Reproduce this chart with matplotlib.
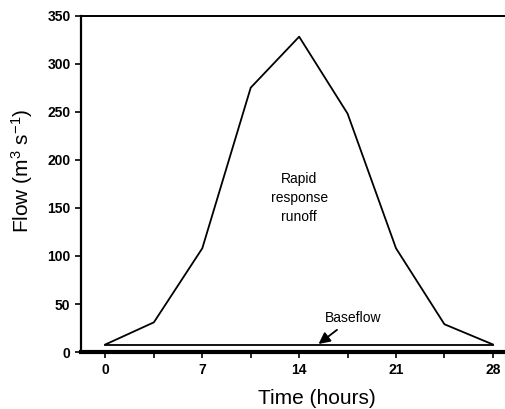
import matplotlib
matplotlib.use("Agg")
import matplotlib.pyplot as plt

plt.rcParams['font.family'] = ['Liberation Sans', 'DejaVu Sans']
plt.rcParams['mathtext.fontset'] = 'custom'
plt.rcParams['mathtext.rm'] = 'Liberation Sans'
plt.rcParams['mathtext.it'] = 'Liberation Sans:italic'
plt.rcParams['mathtext.bf'] = 'Liberation Sans:bold'

time_h = [0, 3.5, 7, 10.5, 14, 17.5, 21, 24.5, 28]
flow = [8, 31, 108, 275, 328, 248, 108, 29, 8]
baseflow_t = [0, 28]
baseflow_v = [7.5, 7.5]
xticks = [0, 7, 14, 21, 28]
yticks = [0, 50, 100, 150, 200, 250, 300, 350]

fig = plt.figure(figsize=(5.06, 4.09), dpi=100)
ax = fig.add_axes([0.160, 0.139, 0.840, 0.823])

ax.plot(time_h, flow, color='black', lw=1.3)
ax.plot(baseflow_t, baseflow_v, color='black', lw=1.3)

ax.set_xlim(-1.77, 28.95)
ax.set_ylim(0, 350)
ax.set_xticks(xticks)
ax.set_xticks([3.5, 10.5, 17.5, 24.5], minor=True)
ax.set_yticks(yticks)
ax.tick_params(axis='both', direction='out', length=4, width=1.2, labelsize=10)
ax.tick_params(axis='x', which='minor', direction='out', length=4, width=1.2)
for lab in ax.get_xticklabels() + ax.get_yticklabels():
    lab.set_fontweight('bold')

ax.spines['right'].set_visible(False)
ax.spines['bottom'].set_linewidth(3)
ax.spines['left'].set_linewidth(1.6)
ax.spines['top'].set_linewidth(1.4)

ax.set_xlabel('Time (hours)', fontsize=15, va='center')
ax.xaxis.set_label_coords(0.556, -0.137)
ax.set_ylabel(r'Flow (m$^{3}$ s$^{-1}$)', fontsize=15, va='center')
ax.yaxis.set_label_coords(-0.139, 0.54)

ax.text(14, 160, 'Rapid\nresponse\nrunoff', ha='center', va='center',
        fontsize=10, linespacing=1.45)
ax.annotate('Baseflow', xy=(15.4, 8.5), xytext=(17.9, 36),
            ha='center', va='center', fontsize=10,
            arrowprops=dict(arrowstyle='-|>', color='black', lw=1.3,
                            mutation_scale=17, shrinkA=3, shrinkB=0))

fig.savefig('out.png', dpi=100)
